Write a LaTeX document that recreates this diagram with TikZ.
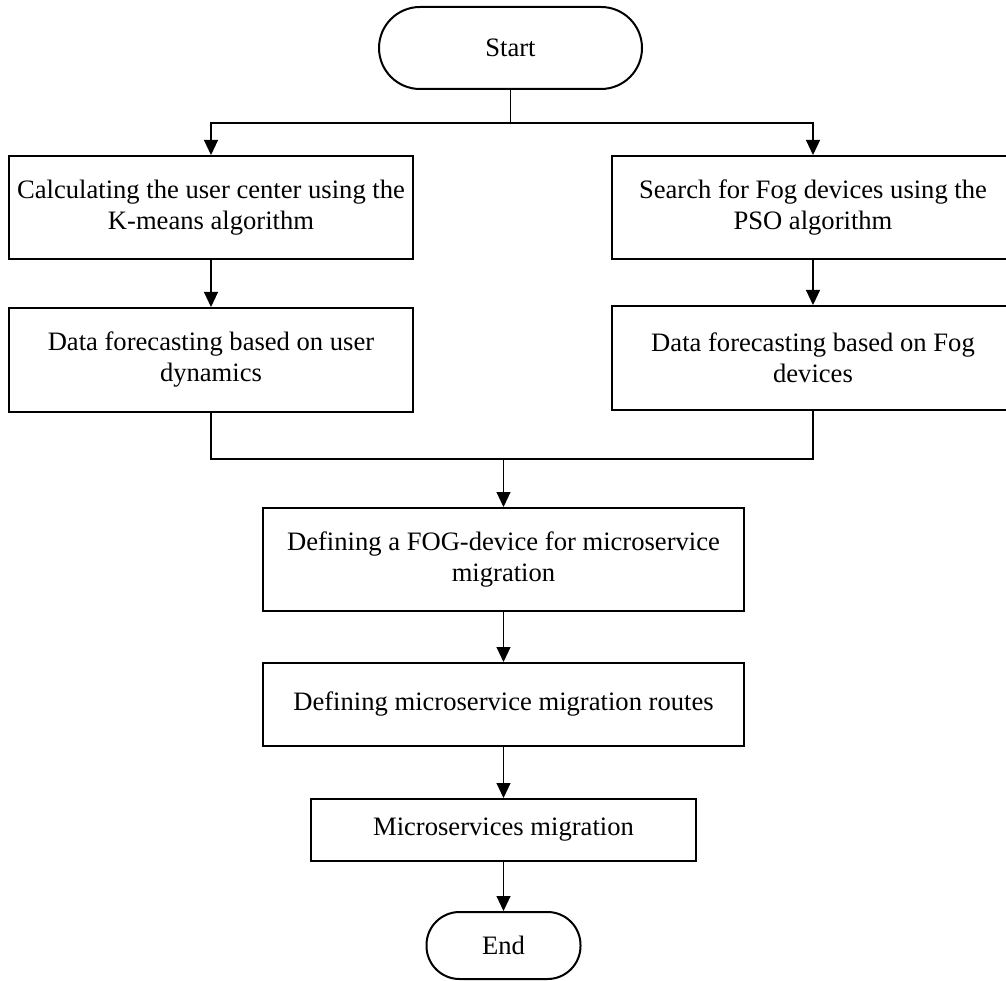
\documentclass[tikz,border=0pt]{standalone}
\usepackage{fontspec}
\setmainfont{Liberation Serif}
\usetikzlibrary{arrows.meta}
\begin{document}
\begin{tikzpicture}[x=1pt,y=1pt,
  box/.style={draw=black, line width=2pt, rectangle, align=center, inner sep=0pt,
    font=\fontsize{26.6}{31}\selectfont},
  term/.style={box},
  conn/.style={draw=black, line width=1.1pt},
  arr/.style={conn, -{Triangle[width=14pt,length=15pt]}}
]
\useasboundingbox (0,0) rectangle (1006,-981);
\clip (0,0) rectangle (1006,-981);
\fill[white] (0,0) rectangle (1006,-981);

\node[term, rounded corners=41pt, minimum width=263pt, minimum height=82pt] (start) at (510.5,-48) {Start};
\node[box, minimum width=404pt, minimum height=103pt] (b1) at (211,-207.5) {Calculating the user center using the\\K-means algorithm};
\node[box, minimum width=404pt, minimum height=104pt] (b2) at (211,-360) {Data forecasting based on user\\dynamics};
\node[box, minimum width=402pt, minimum height=103pt] (b3) at (813,-207.5) {Search for Fog devices using the\\PSO algorithm};
\node[box, minimum width=402pt, minimum height=104pt] (b4) at (813,-358) {Data forecasting based on Fog\\devices};
\node[box, minimum width=481pt, minimum height=103pt] (fog) at (503.5,-559.5) {Defining a FOG-device for microservice\\migration};
\node[box, minimum width=481pt, minimum height=83pt] (routes) at (503.5,-704.5) {Defining microservice migration routes};
\node[box, minimum width=385pt, minimum height=62pt] (mig) at (503.5,-830) {Microservices migration};
\node[term, rounded corners=33pt, minimum width=154pt, minimum height=67pt] (end) at (503.5,-945.5) {End};

\coordinate (split) at (510.5,-123);
\coordinate (merge) at (503.5,-459);

\draw[conn] (start.south) -- (split);
\draw[arr] (split) -| (b1.north);
\draw[arr] (split) -| (b3.north);
\draw[arr] (b1.south) -- (b2.north);
\draw[arr] (b3.south) -- (b4.north);
\draw[conn] (b2.south) |- (merge);
\draw[conn] (b4.south) |- (merge);
\draw[arr] (merge) -- (fog.north);
\draw[arr] (fog.south) -- (routes.north);
\draw[arr] (routes.south) -- (mig.north);
\draw[arr] (mig.south) -- (end.north);
\end{tikzpicture}
\end{document}
